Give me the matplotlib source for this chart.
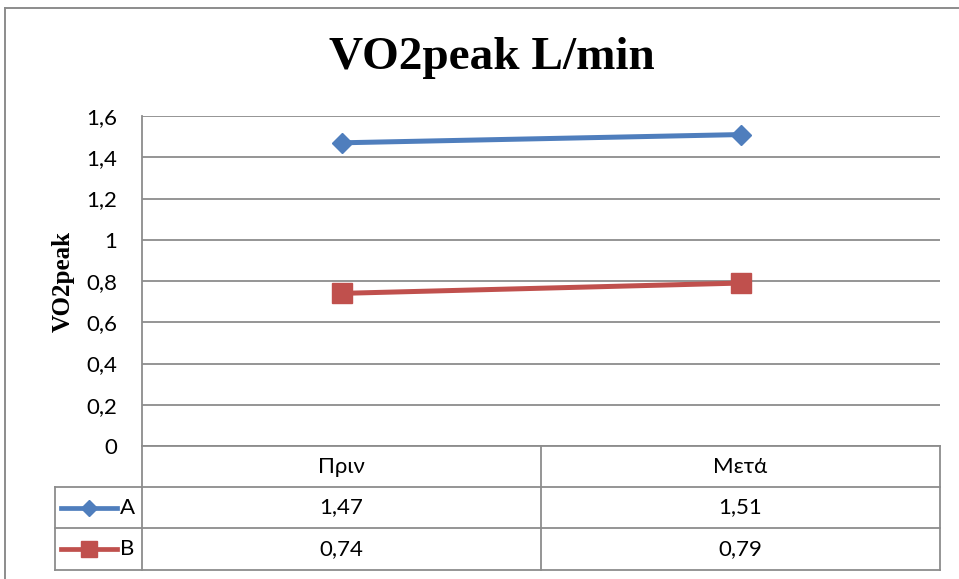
import matplotlib.pyplot as plt
from matplotlib.lines import Line2D
from matplotlib.ticker import FuncFormatter

# dane
categories = ['Πριν', 'Μετά']
series_names = ['A', 'B']
values_a = [1.47, 1.51]
values_b = [0.74, 0.79]
y_ticks = [0, 0.2, 0.4, 0.6, 0.8, 1.0, 1.2, 1.4, 1.6]

W, H = 959, 579
BLUE = '#4F7EBD'
RED = '#C0504D'
GRID = '#8c8c8c'
SANS = ['Lato', 'Open Sans', 'DejaVu Sans']
SERIF = ['Liberation Serif', 'DejaVu Serif']
FS = 16


def fx(px):
    return px / W


def fy(py):
    return 1 - py / H


def comma(v, pos=None):
    return f'{v:g}'.replace('.', ',')


fig = plt.figure(figsize=(W / 100, H / 100), dpi=100)

# obramowanie wykresu
fig.add_artist(Line2D([fx(5), fx(5)], [fy(8), fy(579)], color=GRID, lw=1.4))
fig.add_artist(Line2D([fx(5), fx(959)], [fy(8), fy(8)], color=GRID, lw=1.4))

ax = fig.add_axes([fx(142), fy(446), fx(940) - fx(142), fy(116) - fy(446)])
x = range(len(categories))
ax.plot(x, values_a, color=BLUE, lw=3.6, marker='D', markersize=10, zorder=3)
ax.plot(x, values_b, color=RED, lw=3.6, marker='s', markersize=14, zorder=3)

ax.set_xlim(-0.5, len(categories) - 0.5)
ax.set_ylim(0, 1.6)
ax.set_yticks(y_ticks)
ax.yaxis.set_major_formatter(FuncFormatter(comma))
ax.set_xticks([])
for lab in ax.get_yticklabels():
    lab.set_family(SANS)
    lab.set_fontsize(FS)
ax.tick_params(axis='y', length=0, pad=18)
ax.grid(axis='y', color=GRID, lw=1.3)
ax.set_axisbelow(True)
for s in ['top', 'right', 'bottom']:
    ax.spines[s].set_visible(False)
ax.spines['left'].set_color(GRID)
ax.spines['left'].set_linewidth(1.3)

ax.set_ylabel('VO2peak', family=SERIF, fontsize=18, fontweight='bold', labelpad=8)
fig.text(fx(492), fy(58), 'VO2peak L/min', family=SERIF, fontsize=34,
         fontweight='bold', ha='center', va='center')

# tabela danych pod wykresem
rows = [446, 487, 528, 570]
col_x = [142, 541, 940]
for i, r in enumerate(rows):
    left = 142 if i == 0 else 55
    fig.add_artist(Line2D([fx(left), fx(940)], [fy(r), fy(r)], color=GRID, lw=1.3))
fig.add_artist(Line2D([fx(142), fx(142)], [fy(446), fy(570)], color=GRID, lw=1.3))
for c in col_x[1:]:
    fig.add_artist(Line2D([fx(c), fx(c)], [fy(446), fy(570)], color=GRID, lw=1.3))
fig.add_artist(Line2D([fx(55), fx(55)], [fy(487), fy(570)], color=GRID, lw=1.3))

centers = [(col_x[i] + col_x[i + 1]) / 2 for i in range(len(categories))]
for cx, cat in zip(centers, categories):
    fig.text(fx(cx), fy(467), cat, family=SANS, fontsize=FS, ha='center', va='center')

for ri, (name, vals, color, mk, ms) in enumerate([
        (series_names[0], values_a, BLUE, 'D', 8),
        (series_names[1], values_b, RED, 's', 12)]):
    yc = (rows[ri + 1] + rows[ri + 2]) / 2
    fig.add_artist(Line2D([fx(61), fx(117)], [fy(yc), fy(yc)], color=color, lw=3.4))
    fig.add_artist(Line2D([fx(89)], [fy(yc)], color=color, marker=mk, markersize=ms, lw=0))
    fig.text(fx(120), fy(yc), name, family=SANS, fontsize=FS, ha='left', va='center')
    for cx, v in zip(centers, vals):
        fig.text(fx(cx), fy(yc), f'{v:.2f}'.replace('.', ','), family=SANS,
                 fontsize=FS, ha='center', va='center')

fig.savefig('out.png', dpi=100)
